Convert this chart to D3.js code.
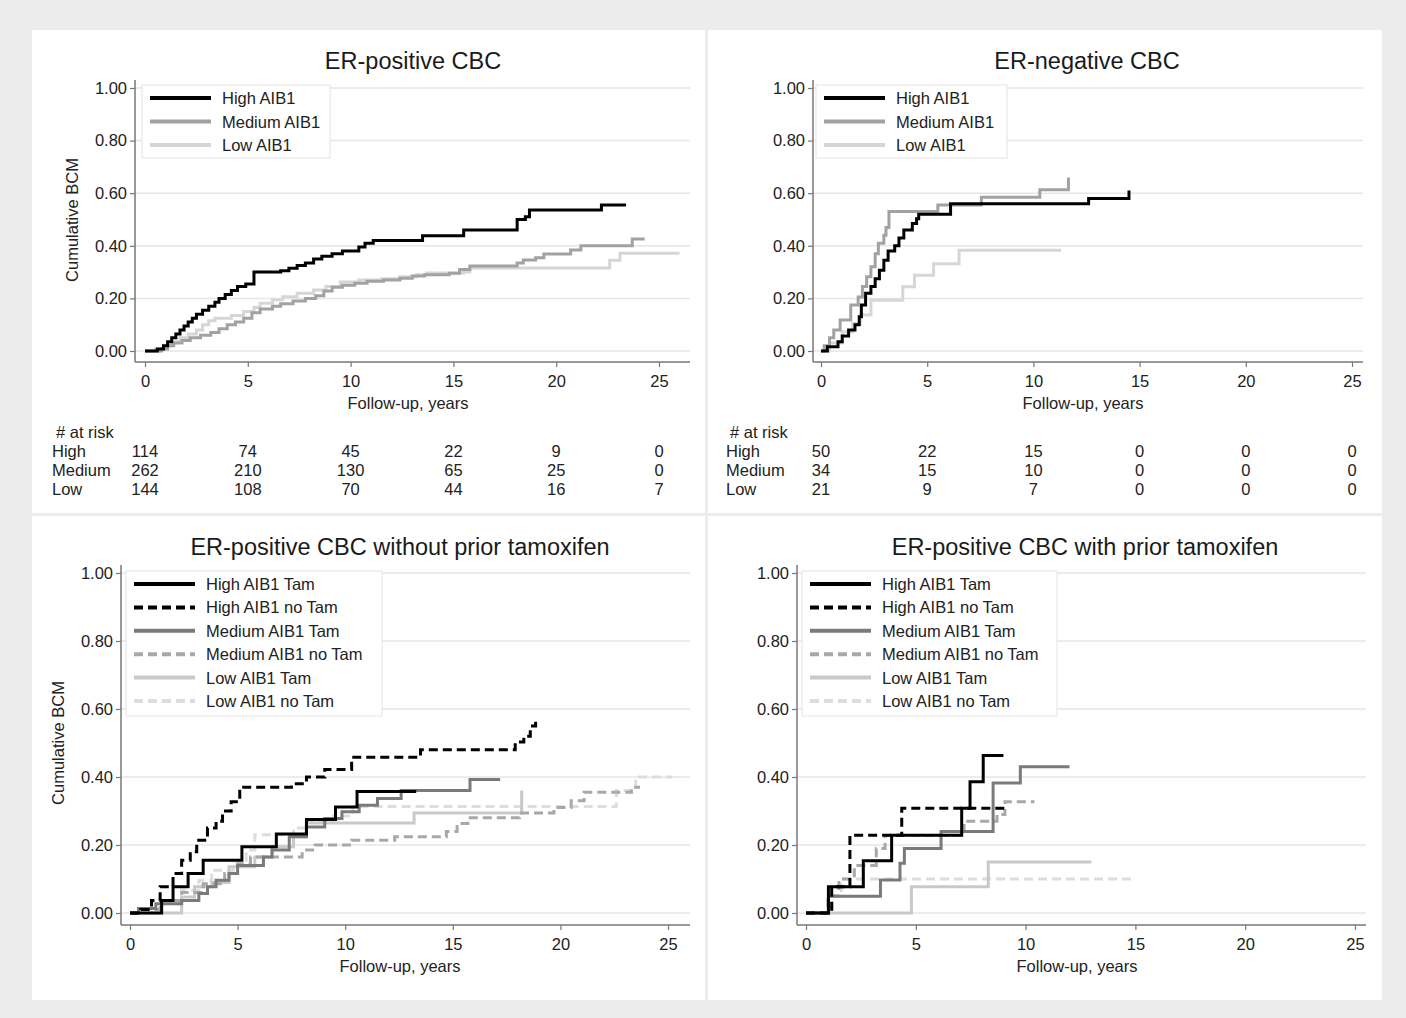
<!DOCTYPE html>
<html>
<head>
<meta charset="utf-8">
<script src="https://cdn.jsdelivr.net/npm/d3@7"></script>
<style>
  body { margin: 0; background: #ececec; }
  svg { display: block; font-family: 'Liberation Sans', Arial, sans-serif; }
</style>
</head>
<body>
<svg id="chart" width="1406" height="1018"></svg>
<script>
// ---- data: [years, cumulative BCM] step points ----
const xTicks = [0, 5, 10, 15, 20, 25]
const yTicks = [0, 0.2, 0.4, 0.6, 0.8, 1.0]
const riskGroups = ['High', 'Medium', 'Low']

const erPosHigh = [[0, 0], [0.6, 0.008], [0.9, 0.02], [1.1, 0.035], [1.3, 0.05], [1.5, 0.065], [1.7, 0.08], [1.9, 0.095], [2.1, 0.11], [2.3, 0.125], [2.5, 0.14], [2.8, 0.155], [3.1, 0.17], [3.4, 0.185], [3.6, 0.2], [3.9, 0.215], [4.2, 0.23], [4.5, 0.245], [4.9, 0.255], [5.3, 0.3], [6.6, 0.305], [7.0, 0.315], [7.4, 0.325], [7.8, 0.335], [8.2, 0.35], [8.6, 0.36], [9.1, 0.37], [9.6, 0.38], [10.4, 0.395], [10.7, 0.41], [11.1, 0.42], [13.5, 0.438], [15.5, 0.46], [18.1, 0.5], [18.5, 0.51], [18.7, 0.536], [22.2, 0.555], [23.4, 0.555]]
const erPosMedium = [[0, 0], [0.8, 0.008], [1.1, 0.02], [1.4, 0.03], [1.8, 0.04], [2.2, 0.05], [2.7, 0.06], [3.2, 0.07], [3.6, 0.085], [4.0, 0.1], [4.4, 0.11], [4.8, 0.125], [5.2, 0.145], [5.6, 0.16], [6.2, 0.17], [6.6, 0.18], [7.2, 0.19], [7.8, 0.2], [8.3, 0.21], [8.7, 0.228], [9.1, 0.242], [9.6, 0.25], [10.2, 0.258], [10.8, 0.265], [11.6, 0.27], [12.4, 0.277], [13.0, 0.285], [13.6, 0.29], [14.8, 0.296], [15.3, 0.31], [15.8, 0.323], [18.1, 0.335], [18.4, 0.346], [19.0, 0.355], [19.4, 0.369], [20.7, 0.384], [21.2, 0.4], [23.7, 0.426], [24.3, 0.426]]
const erPosLow = [[0, 0], [0.5, 0.008], [0.9, 0.02], [1.3, 0.035], [1.7, 0.05], [2.1, 0.065], [2.5, 0.08], [2.8, 0.1], [3.1, 0.115], [3.4, 0.125], [4.2, 0.135], [4.8, 0.15], [5.3, 0.165], [5.6, 0.182], [6.2, 0.195], [6.7, 0.206], [7.4, 0.22], [8.2, 0.232], [8.8, 0.245], [9.5, 0.262], [10.4, 0.27], [11.5, 0.275], [12.4, 0.282], [13.2, 0.29], [13.7, 0.297], [15.5, 0.3], [15.8, 0.316], [22.6, 0.345], [23.1, 0.372], [26.0, 0.372]]

const erNegHigh = [[0, 0], [0.3, 0.016], [0.8, 0.035], [1.0, 0.057], [1.3, 0.08], [1.6, 0.1], [1.8, 0.13], [1.9, 0.175], [2.1, 0.22], [2.35, 0.245], [2.55, 0.275], [2.75, 0.307], [2.96, 0.345], [3.16, 0.38], [3.47, 0.4], [3.67, 0.43], [3.9, 0.46], [4.3, 0.485], [4.5, 0.503], [4.6, 0.52], [6.1, 0.56], [12.6, 0.58], [14.5, 0.61]]
const erNegMedium = [[0, 0], [0.15, 0.02], [0.4, 0.05], [0.6, 0.08], [0.9, 0.118], [1.4, 0.175], [1.75, 0.205], [1.95, 0.245], [2.15, 0.282], [2.35, 0.32], [2.55, 0.37], [2.7, 0.41], [2.96, 0.44], [3.06, 0.47], [3.2, 0.53], [5.5, 0.555], [7.55, 0.585], [10.3, 0.613], [11.65, 0.66]]
const erNegLow = [[0, 0], [0.4, 0.03], [1.0, 0.073], [1.5, 0.105], [1.85, 0.137], [2.35, 0.193], [3.85, 0.244], [4.4, 0.288], [5.3, 0.332], [6.5, 0.383], [11.3, 0.383]]

const noPriorHighTam = [[0, 0], [1.47, 0.037], [2.0, 0.077], [2.7, 0.116], [3.4, 0.155], [5.2, 0.195], [6.8, 0.232], [8.2, 0.275], [9.55, 0.312], [10.55, 0.357], [13.3, 0.357]]
const noPriorHighNoTam = [[0, 0], [0.5, 0.01], [1.0, 0.037], [1.4, 0.077], [2.0, 0.116], [2.4, 0.155], [2.8, 0.18], [3.1, 0.214], [3.6, 0.25], [4.0, 0.27], [4.3, 0.3], [4.7, 0.327], [5.1, 0.37], [7.5, 0.38], [8.2, 0.4], [9.05, 0.422], [10.3, 0.458], [13.5, 0.48], [17.9, 0.503], [18.3, 0.52], [18.6, 0.55], [18.85, 0.573]]
const noPriorMedTam = [[0, 0], [0.4, 0.013], [1.2, 0.027], [2.4, 0.037], [3.2, 0.057], [3.6, 0.077], [4.0, 0.096], [4.6, 0.116], [5.0, 0.14], [6.2, 0.165], [6.6, 0.185], [7.4, 0.224], [8.2, 0.253], [9.05, 0.278], [9.85, 0.298], [10.65, 0.317], [11.5, 0.337], [12.6, 0.36], [15.8, 0.393], [17.2, 0.393]]
const noPriorMedNoTam = [[0, 0], [0.55, 0.01], [1.4, 0.037], [2.4, 0.06], [3.4, 0.086], [4.4, 0.116], [5.0, 0.145], [5.6, 0.165], [8.0, 0.185], [8.6, 0.2], [10.3, 0.214], [12.3, 0.224], [14.7, 0.24], [15.2, 0.263], [15.7, 0.28], [18.1, 0.294], [19.7, 0.31], [20.5, 0.33], [21.1, 0.355], [23.3, 0.37], [23.7, 0.37]]
const noPriorLowTam = [[0, 0], [2.4, 0.047], [3.0, 0.077], [3.8, 0.09], [4.6, 0.136], [5.8, 0.165], [6.6, 0.195], [7.6, 0.224], [8.2, 0.265], [13.2, 0.294], [18.2, 0.36]]
const noPriorLowNoTam = [[0, 0], [0.55, 0.01], [1.4, 0.027], [2.4, 0.067], [3.2, 0.096], [3.8, 0.126], [4.8, 0.155], [5.4, 0.185], [5.8, 0.23], [7.6, 0.25], [8.2, 0.27], [9.45, 0.285], [10.35, 0.313], [22.6, 0.36], [23.5, 0.4], [25.2, 0.4]]

const priorHighTam = [[0, 0], [1.02, 0.077], [2.61, 0.154], [3.9, 0.229], [7.09, 0.308], [7.47, 0.386], [8.07, 0.463], [8.99, 0.463]]
const priorHighNoTam = [[0, 0], [1.17, 0.077], [2.0, 0.229], [4.36, 0.308], [9.1, 0.308]]
const priorMedTam = [[0, 0], [1.03, 0.049], [3.39, 0.097], [4.28, 0.146], [4.48, 0.19], [6.15, 0.24], [8.52, 0.382], [9.76, 0.43], [12.0, 0.43]]
const priorMedNoTam = [[0, 0], [1.0, 0.05], [1.5, 0.1], [2.2, 0.14], [3.2, 0.19], [3.6, 0.228], [7.2, 0.27], [8.7, 0.29], [9.06, 0.327], [10.4, 0.327]]
const priorLowTam = [[0, 0], [4.8, 0.077], [8.3, 0.15], [13.0, 0.15]]
const priorLowNoTam = [[0, 0], [1.2, 0.05], [1.6, 0.1], [14.8, 0.1]]

const erPosRisk = [[114, 74, 45, 22, 9, 0], [262, 210, 130, 65, 25, 0], [144, 108, 70, 44, 16, 7]]
const erNegRisk = [[50, 22, 15, 0, 0, 0], [34, 15, 10, 0, 0, 0], [21, 9, 7, 0, 0, 0]]

const threeLabels = ['High AIB1', 'Medium AIB1', 'Low AIB1']
const sixLabels = ['High AIB1 Tam', 'High AIB1 no Tam', 'Medium AIB1 Tam', 'Medium AIB1 no Tam', 'Low AIB1 Tam', 'Low AIB1 no Tam']

// ---- styles ----
const textSize = 16.5
const threeStyles = [
  { color: '#000000', dash: null },
  { color: '#a2a2a2', dash: null },
  { color: '#d6d6d6', dash: null }
]
const sixStyles = [
  { color: '#000000', dash: null },
  { color: '#000000', dash: '9,5' },
  { color: '#7a7a7a', dash: null },
  { color: '#a8a8a8', dash: '9,5' },
  { color: '#c9c9c9', dash: null },
  { color: '#dddddd', dash: '9,5' }
]

const svg = d3.select('#chart')

svg.append('rect').attr('width', 1406).attr('height', 1018).attr('fill', '#ececec')
svg.append('rect').attr('x', 32).attr('y', 30).attr('width', 1350).attr('height', 970).attr('fill', '#ffffff')
svg.append('rect').attr('x', 705).attr('y', 30).attr('width', 3).attr('height', 970).attr('fill', '#ececec')
svg.append('rect').attr('x', 32).attr('y', 513).attr('width', 1350).attr('height', 3).attr('fill', '#ececec')

function drawPanel (p) {
  const x = d3.scaleLinear().domain([0, 25]).range(p.xRange)
  const y = d3.scaleLinear().domain([0, 1]).range(p.yRange)
  const g = svg.append('g').attr('class', 'panel')

  g.selectAll('.grid')
    .data(yTicks)
    .enter()
    .append('line')
    .attr('class', 'grid')
    .attr('x1', p.axisX)
    .attr('x2', p.gridEnd)
    .attr('y1', d => y(d))
    .attr('y2', d => y(d))
    .attr('stroke', '#e6e6e6')
    .attr('stroke-width', 1.5)

  const yAxis = g.append('g')
    .attr('transform', `translate(${p.axisX},0)`)
    .call(d3.axisLeft(y).tickValues(yTicks).tickFormat(d3.format('.2f')).tickSize(5).tickPadding(3))
  const xAxis = g.append('g')
    .attr('transform', `translate(0,${p.axisBottom})`)
    .call(d3.axisBottom(x).tickValues(xTicks).tickFormat(d3.format('d')).tickSize(5).tickPadding(8))

  ;[yAxis, xAxis].forEach(a => {
    a.select('.domain').remove()
    a.selectAll('line').attr('stroke', '#777').attr('stroke-width', 1.2)
    a.selectAll('text').attr('font-size', textSize).attr('fill', '#222').attr('font-family', 'Liberation Sans, Arial, sans-serif')
  })

  g.append('line')
    .attr('x1', p.axisX).attr('x2', p.axisX)
    .attr('y1', p.axisTop).attr('y2', p.axisBottom)
    .attr('stroke', '#777').attr('stroke-width', 1.5)
  g.append('line')
    .attr('x1', p.axisX).attr('x2', p.gridEnd)
    .attr('y1', p.axisBottom).attr('y2', p.axisBottom)
    .attr('stroke', '#777').attr('stroke-width', 1.5)

  const line = d3.line()
    .x(d => x(d[0]))
    .y(d => y(d[1]))
    .curve(d3.curveStepAfter)

  // lighter curves first, so black sits on top
  const order = p.series.map((s, i) => i).reverse()
  order.forEach(i => {
    g.append('path')
      .datum(p.series[i])
      .attr('d', line)
      .attr('fill', 'none')
      .attr('stroke', p.styles[i].color)
      .attr('stroke-width', 3)
      .attr('stroke-dasharray', p.styles[i].dash)
  })

  g.append('text')
    .attr('x', p.title[0]).attr('y', p.title[1])
    .attr('text-anchor', 'middle')
    .attr('dominant-baseline', 'central')
    .attr('font-size', 23.5)
    .attr('fill', '#1a1a1a')
    .text(p.titleText)

  g.append('text')
    .attr('x', p.xLabel[0]).attr('y', p.xLabel[1])
    .attr('text-anchor', 'middle')
    .attr('dominant-baseline', 'central')
    .attr('font-size', textSize)
    .attr('fill', '#222')
    .text('Follow-up, years')

  if (p.yLabel) {
    g.append('text')
      .attr('transform', `translate(${p.yLabel[0]},${p.yLabel[1]}) rotate(-90)`)
      .attr('text-anchor', 'middle')
      .attr('dominant-baseline', 'central')
      .attr('font-size', textSize)
      .attr('fill', '#222')
      .text('Cumulative BCM')
  }

  // legend
  const lg = g.append('g').attr('class', 'legend')
  lg.append('rect')
    .attr('x', p.legend.x).attr('y', p.legend.y)
    .attr('width', p.legend.w).attr('height', p.legend.h)
    .attr('fill', '#fff').attr('stroke', '#e4e4e4').attr('stroke-width', 1)
  p.labels.forEach((lab, i) => {
    const ly = p.legend.y + 13 + i * p.legend.step
    lg.append('line')
      .attr('x1', p.legend.x + 8).attr('x2', p.legend.x + 69)
      .attr('y1', ly).attr('y2', ly)
      .attr('stroke', p.styles[i].color)
      .attr('stroke-width', 4)
      .attr('stroke-dasharray', p.styles[i].dash)
    lg.append('text')
      .attr('x', p.legend.x + 80).attr('y', ly)
      .attr('dominant-baseline', 'central')
      .attr('font-size', textSize)
      .attr('fill', '#222')
      .text(lab)
  })

  // number-at-risk table
  if (p.risk) {
    const rg = g.append('g').attr('class', 'risk')
    rg.append('text')
      .attr('x', p.riskX + 4).attr('y', p.riskY)
      .attr('dominant-baseline', 'central')
      .attr('font-size', textSize).attr('fill', '#222')
      .text('# at risk')
    riskGroups.forEach((grp, r) => {
      const ry = p.riskY + 19 * (r + 1)
      rg.append('text')
        .attr('x', p.riskX).attr('y', ry)
        .attr('dominant-baseline', 'central')
        .attr('font-size', textSize).attr('fill', '#222')
        .text(grp)
      rg.selectAll(null)
        .data(p.risk[r])
        .enter()
        .append('text')
        .attr('x', (d, i) => x(xTicks[i]))
        .attr('y', ry)
        .attr('text-anchor', 'middle')
        .attr('dominant-baseline', 'central')
        .attr('font-size', textSize).attr('fill', '#222')
        .text(d => d)
    })
  }
}

drawPanel({
  titleText: 'ER-positive CBC',
  xRange: [145, 659], yRange: [351, 88],
  axisX: 135, axisTop: 80, axisBottom: 362, gridEnd: 690,
  title: [413, 61], xLabel: [408, 403], yLabel: [72, 220],
  legend: { x: 142, y: 85, w: 188, h: 73, step: 23.5 },
  series: [erPosHigh, erPosMedium, erPosLow], styles: threeStyles, labels: threeLabels,
  risk: erPosRisk, riskX: 52, riskY: 432
})

drawPanel({
  titleText: 'ER-negative CBC',
  xRange: [821, 1352], yRange: [351, 88],
  axisX: 813, axisTop: 80, axisBottom: 362, gridEnd: 1363,
  title: [1087, 61], xLabel: [1083, 403], yLabel: null,
  legend: { x: 816, y: 85, w: 191, h: 73, step: 23.5 },
  series: [erNegHigh, erNegMedium, erNegLow], styles: threeStyles, labels: threeLabels,
  risk: erNegRisk, riskX: 726, riskY: 432
})

drawPanel({
  titleText: 'ER-positive CBC without prior tamoxifen',
  xRange: [130, 668], yRange: [913, 573],
  axisX: 121, axisTop: 565, axisBottom: 925, gridEnd: 690,
  title: [400, 547], xLabel: [400, 966], yLabel: [58, 743],
  legend: { x: 126, y: 571, w: 256, h: 145, step: 23.4 },
  series: [noPriorHighTam, noPriorHighNoTam, noPriorMedTam, noPriorMedNoTam, noPriorLowTam, noPriorLowNoTam],
  styles: sixStyles, labels: sixLabels, risk: null
})

drawPanel({
  titleText: 'ER-positive CBC with prior tamoxifen',
  xRange: [806, 1355], yRange: [913, 573],
  axisX: 797, axisTop: 565, axisBottom: 925, gridEnd: 1366,
  title: [1085, 547], xLabel: [1077, 966], yLabel: null,
  legend: { x: 802, y: 571, w: 255, h: 145, step: 23.4 },
  series: [priorHighTam, priorHighNoTam, priorMedTam, priorMedNoTam, priorLowTam, priorLowNoTam],
  styles: sixStyles, labels: sixLabels, risk: null
})
</script>
</body>
</html>
